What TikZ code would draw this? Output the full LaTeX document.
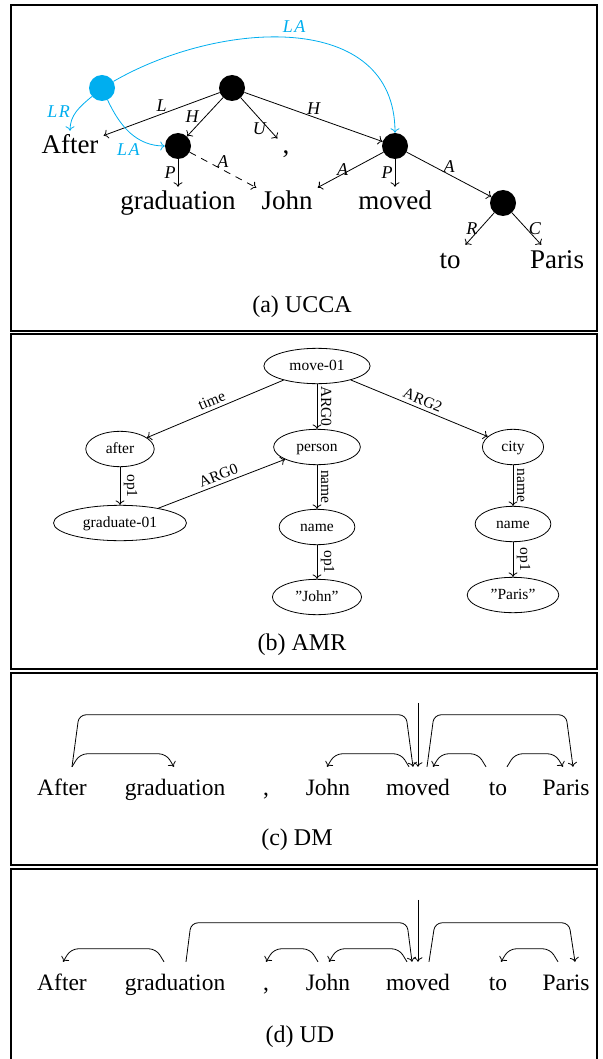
\documentclass[tikz,border=0pt]{standalone}
\usepackage{fontspec}
\setmainfont{Liberation Serif}
\usetikzlibrary{arrows.meta,calc,shapes.geometric}
\definecolor{ucblue}{RGB}{0,174,239}

\tikzstyle {frame} = [line width=2pt]
\tikzstyle {caption} = [font=\fontsize{24}{28}\selectfont]
\tikzstyle {dot} = [circle, fill=black, minimum size=26pt, inner sep=0pt]
\tikzstyle {linkdot} = [dot, fill=ucblue]
\tikzstyle {uword} = [font=\fontsize{27}{30}\selectfont, anchor=base, inner sep=5pt, text height=18pt, text depth=6pt]
\tikzstyle {ulab} = [font=\fontsize{18}{20}\selectfont\itshape, inner sep=2pt]
\tikzstyle {uedge} = [->, line width=0.8pt]
\tikzstyle {ledge} = [uedge, ucblue]
\tikzstyle {concept} = [ellipse, draw, line width=0.8pt, font=\fontsize{15.5}{18}\selectfont, inner xsep=10pt, inner ysep=5.5pt, text height=11pt, text depth=3pt]
\tikzstyle {role} = [font=\fontsize{15.5}{18}\selectfont, sloped, above, inner sep=3.5pt]
\tikzstyle {dword} = [font=\fontsize{23.5}{27}\selectfont, anchor=base, inner xsep=1pt, inner ysep=12pt, text height=16pt, text depth=5pt]
\tikzstyle {dep} = [->, line width=0.8pt, rounded corners=7pt]

% arc between two words: from, shift, to, shift, height, slant
\newcommand{\deparc}[6]{%
  \draw[dep] ($(#1.north)+(#2,0)$) -- ++(#6,#5)
    -- ($(#3.north)+(#4,#5)-(#6,0)$) -- ($(#3.north)+(#4,0)$);}

\begin{document}
\begin{tikzpicture}[x=1pt, y=1pt, >={Computer Modern Rightarrow[length=4.5pt,width=9pt]}]
\useasboundingbox (0,0) rectangle (602,-1059);
\draw[frame] (11,-5) rectangle (597,-331);
\draw[frame] (11,-334) rectangle (597,-669);
\draw[frame] (11,-673) rectangle (597,-865);
\draw[frame] (11,-1064) |- (597,-869) -- (597,-1064);

% (a) UCCA
\node[linkdot] (lnk) at (102,-88) {};
\node[dot] (root) at (232,-88) {};
\node[dot] (grad) at (178,-146) {};
\node[dot] (mov) at (395,-146) {};
\node[dot] (dest) at (503,-203) {};
\node[uword] (wAfter) at (70,-154) {After};
\node[uword] (wComma) at (286,-154) {,};
\node[uword] (wGrad) at (178,-210) {graduation};
\node[uword] (wJohn) at (287,-210) {John};
\node[uword] (wMoved) at (395,-210) {moved};
\node[uword] (wTo) at (450,-268) {to};
\node[uword] (wParis) at (557,-268) {Paris};

\draw[uedge] (root) -- node[ulab, above] {L} (wAfter);
\draw[uedge] (root) -- node[ulab, left=4pt] {H} (grad);
\draw[uedge] (root) -- node[ulab, pos=.75, left] {U} (wComma);
\draw[uedge] (root) -- node[ulab, above] {H} (mov);
\draw[uedge] (grad) -- node[ulab, left] {P} (wGrad);
\draw[uedge, dash pattern=on 7pt off 6pt] (grad) -- node[ulab, above] {A} (wJohn);
\draw[uedge] (mov) -- node[ulab, left] {A} (wJohn);
\draw[uedge] (mov) -- node[ulab, left] {P} (wMoved);
\draw[uedge] (mov) -- node[ulab, above] {A} (dest);
\draw[uedge] (dest) -- node[ulab, left] {R} (wTo);
\draw[uedge] (dest) -- node[ulab, right] {C} (wParis);
\draw[ledge] (lnk) to[out=30, in=90, looseness=1.1] node[ulab, above=3pt] {L\kern1.5pt A} (mov);
\draw[ledge] (lnk) to[out=220, in=90] node[ulab, left=4pt] {L\kern1.5pt R} (wAfter);
\draw[ledge] (lnk) to[out=-65, in=180] node[ulab, pos=.7, below left] {L\kern1.5pt A} (grad);
\node[caption] (capA) at (302,-307) {(a) UCCA};

% (b) AMR
\node[concept] (move) at (317,-366) {move-01};
\node[concept] (after) at (120,-449) {after};
\node[concept] (person) at (317,-447) {person};
\node[concept] (city) at (513,-447) {city};
\node[concept] (grad01) at (120,-523) {graduate-01};
\node[concept] (nameJ) at (317,-527) {name};
\node[concept] (nameP) at (513,-524) {name};
\node[concept] (strJ) at (317,-597) {''John''};
\node[concept] (strP) at (513,-595) {''Paris''};

\draw[uedge] (move) -- node[role] {time} (after);
\draw[uedge] (move) -- node[role] {ARG0} (person);
\draw[uedge] (move) -- node[role] {ARG2} (city);
\draw[uedge] (after) -- node[role] {op1} (grad01);
\draw[uedge] (grad01) -- node[role] {ARG0} (person);
\draw[uedge] (person) -- node[role] {name} (nameJ);
\draw[uedge] (nameJ) -- node[role] {op1} (strJ);
\draw[uedge] (city) -- node[role] {name} (nameP);
\draw[uedge] (nameP) -- node[role] {op1} (strP);
\node[caption] (capB) at (302,-645) {(b) AMR};

% (c) DM
\node[dword] (dAfter) at (62,-795) {After};
\node[dword] (dGrad) at (175,-795) {graduation};
\node[dword] (dComma) at (266,-795) {,};
\node[dword] (dJohn) at (328,-795) {John};
\node[dword] (dMoved) at (418,-795) {moved};
\node[dword] (dTo) at (498,-795) {to};
\node[dword] (dParis) at (566,-795) {Paris};
\coordinate (dRoot) at ($(dMoved.north)+(0,64)$);

\draw[dep] (dRoot) -- (dMoved.north);
\deparc{dAfter}{10}{dGrad}{-1}{13}{8}
\deparc{dAfter}{10}{dMoved}{-5}{52}{7}
\deparc{dMoved}{-9}{dJohn}{-1}{13}{-8}
\deparc{dMoved}{9}{dParis}{7}{52}{7}
\deparc{dTo}{-12}{dMoved}{15}{13}{-8}
\deparc{dTo}{9}{dParis}{-3}{13}{8}
\node[caption] (capC) at (297,-840) {(c) DM};

% (d) UD
\node[dword] (uAfter) at (62,-990) {After};
\node[dword] (uGrad) at (175,-990) {graduation};
\node[dword] (uComma) at (266,-990) {,};
\node[dword] (uJohn) at (328,-990) {John};
\node[dword] (uMoved) at (418,-990) {moved};
\node[dword] (uTo) at (498,-990) {to};
\node[dword] (uParis) at (566,-990) {Paris};
\coordinate (uRoot) at ($(uMoved.north)+(0,62)$);

\draw[dep] (uRoot) -- (uMoved.north);
\deparc{uGrad}{-11}{uAfter}{1}{13}{-8}
\deparc{uGrad}{11}{uMoved}{-6}{39}{5}
\deparc{uJohn}{-10}{uComma}{0}{13}{-8}
\deparc{uMoved}{-11}{uJohn}{1}{13}{-8}
\deparc{uMoved}{11}{uParis}{9}{39}{6}
\deparc{uParis}{-8}{uTo}{3}{13}{-8}
\node[caption] (capD) at (300,-1037) {(d) UD};
\end{tikzpicture}
\end{document}
